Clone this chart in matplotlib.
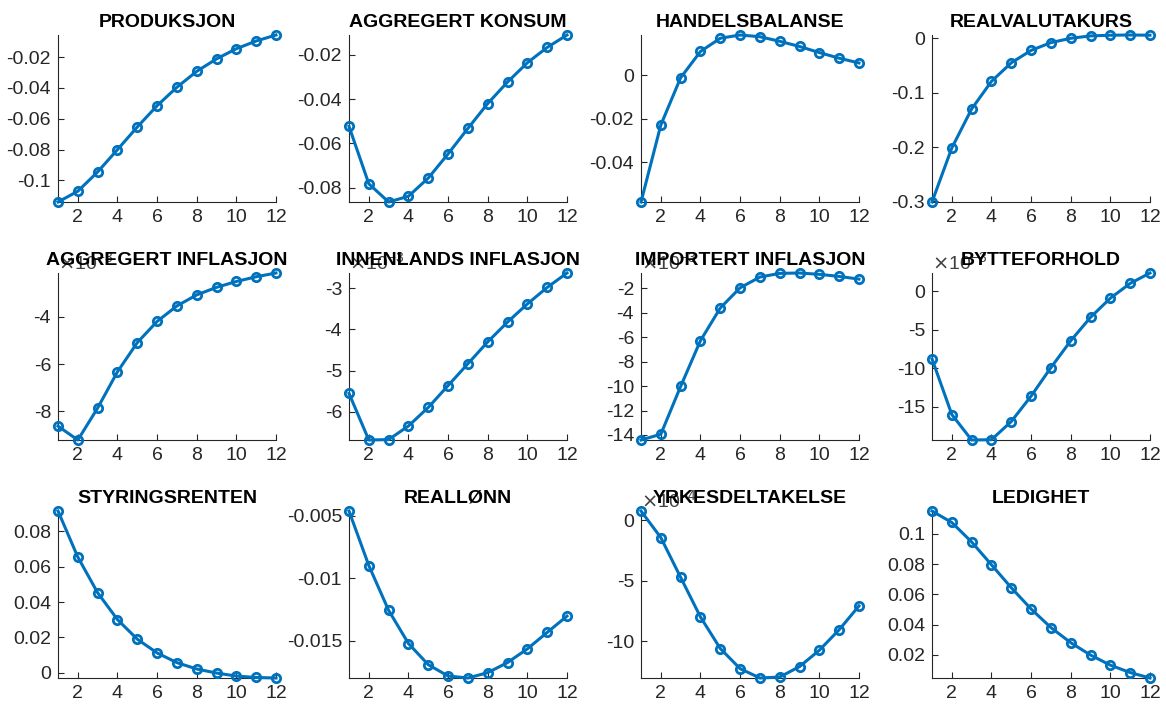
import numpy as np
import matplotlib.pyplot as plt
from matplotlib.ticker import MultipleLocator, FuncFormatter, ScalarFormatter

plt.rcParams['font.family'] = ['Liberation Sans', 'DejaVu Sans']
plt.rcParams['axes.unicode_minus'] = False

# impulse responses, 12 quarters
periods = np.arange(1, 13)

produksjon = [-0.1140, -0.1070, -0.0945, -0.0800, -0.0653, -0.0515,
              -0.0395, -0.0292, -0.0211, -0.0145, -0.0095, -0.0056]
konsum = [-0.0523, -0.0782, -0.0864, -0.0838, -0.0756, -0.0647,
          -0.0532, -0.0420, -0.0323, -0.0236, -0.0167, -0.0111]
handelsbalanse = [-0.0584, -0.0229, -0.0011, 0.0110, 0.0171, 0.0186,
                  0.0178, 0.0157, 0.0133, 0.0105, 0.0079, 0.0057]
realvalutakurs = [-0.301, -0.2016, -0.130, -0.0792, -0.0451, -0.0223,
                  -0.0080, 0.0000, 0.0043, 0.0056, 0.0060, 0.0056]
inflasjon = [-8.64e-3, -9.23e-3, -7.87e-3, -6.33e-3, -5.09e-3, -4.19e-3,
             -3.53e-3, -3.06e-3, -2.74e-3, -2.49e-3, -2.29e-3, -2.13e-3]
innenlands = [-5.55e-3, -6.68e-3, -6.67e-3, -6.34e-3, -5.89e-3, -5.36e-3,
              -4.83e-3, -4.30e-3, -3.82e-3, -3.38e-3, -2.98e-3, -2.63e-3]
importert = [-14.41e-3, -13.94e-3, -10.03e-3, -6.29e-3, -3.62e-3, -1.97e-3,
             -1.09e-3, -0.79e-3, -0.76e-3, -0.87e-3, -1.04e-3, -1.26e-3]
bytteforhold = [-8.76e-3, -16.0e-3, -19.31e-3, -19.27e-3, -16.91e-3, -13.6e-3,
                -9.90e-3, -6.41e-3, -3.36e-3, -0.87e-3, 1.05e-3, 2.40e-3]
styringsrenten = [0.0916, 0.0655, 0.0453, 0.0301, 0.0190, 0.0112,
                  0.0057, 0.0021, -0.0002, -0.0019, -0.0027, -0.0030]
realloenn = [-0.00460, -0.00898, -0.01258, -0.01524, -0.01694, -0.01785,
             -0.01801, -0.01758, -0.01677, -0.01567, -0.01435, -0.01304]
yrkesdeltakelse = [0.75e-4, -1.44e-4, -4.72e-4, -7.98e-4, -10.58e-4, -12.24e-4,
                   -13.01e-4, -12.93e-4, -12.07e-4, -10.72e-4, -9.03e-4, -7.07e-4]
ledighet = [0.1152, 0.1076, 0.0947, 0.0796, 0.0644, 0.0503,
            0.0380, 0.0280, 0.0198, 0.0131, 0.0082, 0.0046]

titles = ['PRODUKSJON', 'AGGREGERT KONSUM', 'HANDELSBALANSE', 'REALVALUTAKURS',
          'AGGREGERT INFLASJON', 'INNENLANDS INFLASJON', 'IMPORTERT INFLASJON',
          'BYTTEFORHOLD', 'STYRINGSRENTEN', 'REALLØNN', 'YRKESDELTAKELSE',
          'LEDIGHET']
series = [produksjon, konsum, handelsbalanse, realvalutakurs,
          inflasjon, innenlands, importert, bytteforhold,
          styringsrenten, realloenn, yrkesdeltakelse, ledighet]
y_steps = [0.02, 0.02, 0.02, 0.1,
           2e-3, 1e-3, 2e-3, 5e-3,
           0.02, 0.005, 5e-4, 0.02]
y_exponents = [None, None, None, None,
               -3, -3, -3, -3,
               None, None, -4, None]

line_color = '#0072BD'
axis_color = '#262626'


class ExpFormatter(ScalarFormatter):
    # plain hyphen tick labels, exponent shown as x10^n above the axis
    def __call__(self, x, pos=None):
        return '%g' % round(x / 10 ** self.orderOfMagnitude, 6)


fig = plt.figure(figsize=(11.66, 7.09), dpi=100)
W, H = 1166, 709
col_left = [58, 349, 641, 932]
row_top = [35, 273, 511]
ax_w, ax_h = 218, 167

for i, (title, y, step, expo) in enumerate(zip(titles, series, y_steps, y_exponents)):
    row, col = divmod(i, 4)
    ax = fig.add_axes([col_left[col] / W, 1 - (row_top[row] + ax_h) / H,
                       ax_w / W, ax_h / H])
    ax.plot(periods, y, color=line_color, lw=2.2, marker='o', ms=6,
            mfc='none', mew=2, clip_on=False, zorder=3)
    ax.set_xlim(1, 12)
    ax.set_ylim(min(y), max(y))

    ax.spines['top'].set_visible(False)
    ax.spines['right'].set_visible(False)
    for s in ('left', 'bottom'):
        ax.spines[s].set_color(axis_color)
        ax.spines[s].set_linewidth(0.8)

    ax.xaxis.set_major_locator(MultipleLocator(2))
    ax.yaxis.set_major_locator(MultipleLocator(step))
    ax.tick_params(direction='in', length=4, width=0.8, colors=axis_color,
                   labelsize=14, pad=5)

    if expo is None:
        ax.yaxis.set_major_formatter(FuncFormatter(lambda v, p: '%g' % round(v, 10)))
    else:
        fmt = ExpFormatter(useMathText=True, useOffset=False)
        fmt.set_powerlimits((expo, expo))
        ax.yaxis.set_major_formatter(fmt)
        off = ax.yaxis.get_offset_text()
        off.set_fontsize(14)
        off.set_color('#404040')

    # fixed title position, so it sits over the exponent label
    ax.set_title(title, fontsize=14, fontweight='bold', color='black',
                 y=1.0, pad=6)

fig.savefig('out.png', dpi=100)
